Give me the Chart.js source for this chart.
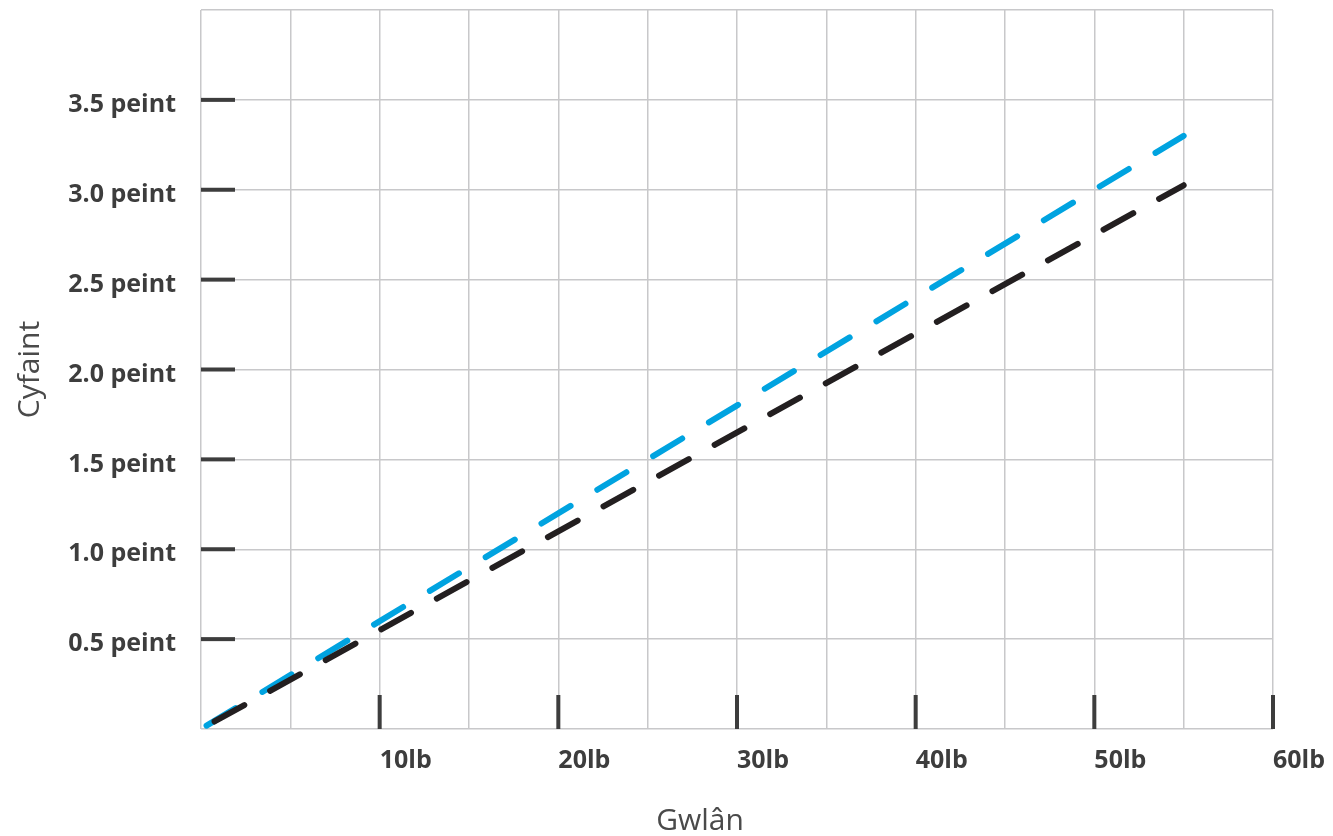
<!DOCTYPE html>
<html>
<head>
<meta charset="utf-8">
<title>Gwlân / Cyfaint</title>
<script src="https://cdn.jsdelivr.net/npm/chart.js@4"></script>
<style>
  html, body { margin: 0; padding: 0; background: #fff; }
  canvas { display: block; }
</style>
</head>
<body>
<canvas id="chart" width="1333" height="836"></canvas>
<script>
(function () {
  "use strict";

  // ---- data ----
  var woolLb = [0, 55];                 // x values (lb)
  var blueVolume = [0, 3.3];            // peint
  var blackVolume = [0, 3.025];         // peint
  var xLabelled = [10, 20, 30, 40, 50, 60];
  var yLabelled = [0.5, 1.0, 1.5, 2.0, 2.5, 3.0, 3.5];

  var INK = "#3d3d3d";
  var GRID = "#c8c8ca";
  var FONT = "'Open Sans', 'Noto Sans', sans-serif";

  function points(xs, ys) {
    return xs.map(function (x, i) { return { x: x, y: ys[i] }; });
  }

  // dark stub ticks drawn inside the plot, at the labelled values
  var innerTicks = {
    id: "innerTicks",
    beforeDatasetsDraw: function (chart) {
      var ctx = chart.ctx;
      var xs = chart.scales.x;
      var ys = chart.scales.y;
      var area = chart.chartArea;
      ctx.save();
      ctx.fillStyle = INK;
      yLabelled.forEach(function (v) {
        var py = ys.getPixelForValue(v);
        ctx.fillRect(area.left, py - 2, 34, 4);
      });
      xLabelled.forEach(function (v) {
        var px = xs.getPixelForValue(v);
        ctx.fillRect(px - 2, area.bottom - 34, 4, 34);
      });
      ctx.restore();
    }
  };

  // x-axis title sits a little left of the plot centre in the original
  var xTitle = {
    id: "xTitle",
    afterDraw: function (chart) {
      var ctx = chart.ctx;
      ctx.save();
      ctx.font = "30px " + FONT;
      ctx.fillStyle = "#4a4a4a";
      ctx.textAlign = "center";
      ctx.textBaseline = "middle";
      ctx.fillText("Gwlân", 700, 821);
      ctx.restore();
    }
  };

  new Chart(document.getElementById("chart"), {
    type: "line",
    data: {
      datasets: [
        {
          label: "du",
          data: points(woolLb, blackVolume),
          borderColor: "#231f20",
          borderWidth: 6,
          borderCapStyle: "round",
          borderDash: [34, 29.5],
          borderDashOffset: -15.5,
          pointRadius: 0,
          tension: 0,
          order: 0
        },
        {
          label: "glas",
          data: points(woolLb, blueVolume),
          borderColor: "#00a3e0",
          borderWidth: 6,
          borderCapStyle: "round",
          borderDash: [34, 31.2],
          borderDashOffset: -6.5,
          pointRadius: 0,
          tension: 0,
          order: 1
        }
      ]
    },
    options: {
      responsive: false,
      animation: false,
      layout: { padding: { left: 0, right: 60, top: 10, bottom: 0 } },
      plugins: {
        legend: { display: false },
        tooltip: { enabled: false }
      },
      scales: {
        x: {
          type: "linear",
          min: 0,
          max: 60,
          border: { display: false },
          grid: { color: GRID, lineWidth: 1.5, drawTicks: false },
          ticks: {
            stepSize: 5,
            autoSkip: false,
            maxRotation: 0,
            align: "start",
            padding: 17,
            color: INK,
            font: { family: FONT, size: 25, weight: "bold" },
            callback: function (v) {
              return xLabelled.indexOf(v) >= 0 ? v + "lb" : "";
            }
          },
          afterFit: function (s) {
            s.height = 107;
            s.paddingLeft = 0;
            s.paddingRight = 0;
          }
        },
        y: {
          type: "linear",
          min: 0,
          max: 4,
          border: { display: false },
          grid: { color: GRID, lineWidth: 1.5, drawTicks: false },
          title: {
            display: true,
            text: "Cyfaint",
            color: "#4a4a4a",
            font: { family: FONT, size: 30, weight: "normal", lineHeight: 1.2 },
            padding: { top: 12, bottom: 0 }
          },
          ticks: {
            stepSize: 0.5,
            autoSkip: false,
            padding: 25,
            labelOffset: 5,
            color: INK,
            font: { family: FONT, size: 25, weight: "bold" },
            callback: function (v) {
              return yLabelled.indexOf(v) >= 0 ? v.toFixed(1) + " peint" : "";
            }
          },
          afterFit: function (s) {
            s.width = 201;
            s.paddingTop = 0;
            s.paddingBottom = 0;
          }
        }
      }
    },
    plugins: [innerTicks, xTitle]
  });
})();
</script>
</body>
</html>
